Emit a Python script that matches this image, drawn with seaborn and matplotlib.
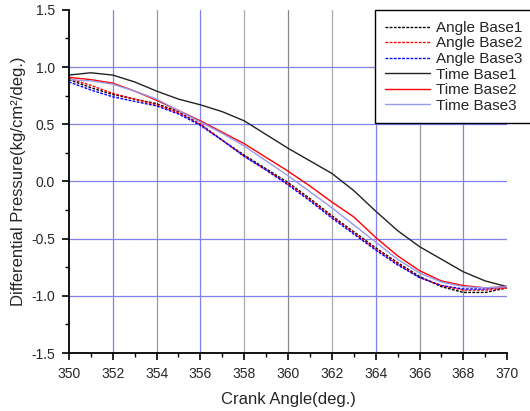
import numpy as np
import pandas as pd
import seaborn as sns
import matplotlib.pyplot as plt
from matplotlib.ticker import MultipleLocator

# crank angle (deg.)
angle = list(range(350, 371))

angle_base1 = [0.89, 0.82, 0.76, 0.72, 0.68, 0.61, 0.50, 0.36, 0.23, 0.11, -0.01,
               -0.15, -0.30, -0.44, -0.58, -0.71, -0.83, -0.92, -0.97, -0.97, -0.93]
angle_base2 = [0.90, 0.84, 0.77, 0.72, 0.67, 0.60, 0.50, 0.36, 0.22, 0.10, -0.02,
               -0.16, -0.31, -0.45, -0.59, -0.72, -0.84, -0.91, -0.95, -0.95, -0.93]
angle_base3 = [0.87, 0.80, 0.74, 0.70, 0.66, 0.59, 0.49, 0.36, 0.22, 0.10, -0.03,
               -0.17, -0.32, -0.46, -0.60, -0.73, -0.84, -0.91, -0.94, -0.94, -0.92]
time_base1 = [0.93, 0.95, 0.93, 0.87, 0.79, 0.72, 0.67, 0.61, 0.53, 0.41, 0.29,
              0.18, 0.07, -0.08, -0.26, -0.43, -0.57, -0.68, -0.79, -0.87, -0.92]
time_base2 = [0.91, 0.89, 0.86, 0.79, 0.71, 0.62, 0.53, 0.43, 0.33, 0.21, 0.09,
              -0.04, -0.18, -0.31, -0.49, -0.65, -0.78, -0.87, -0.91, -0.93, -0.92]
time_base3 = [0.89, 0.88, 0.85, 0.79, 0.72, 0.62, 0.52, 0.42, 0.31, 0.18, 0.05,
              -0.09, -0.23, -0.38, -0.53, -0.68, -0.80, -0.88, -0.92, -0.93, -0.92]

series = [
    ('Angle Base1', angle_base1, 'black', (0, (2, 1))),
    ('Angle Base2', angle_base2, 'red', (0, (2, 1))),
    ('Angle Base3', angle_base3, 'blue', (0, (2, 1))),
    ('Time Base1', time_base1, '#222222', '-'),
    ('Time Base2', time_base2, 'red', '-'),
    ('Time Base3', time_base3, '#9999ee', '-'),
]

sns.set_style('white')
plt.rcParams['font.family'] = ['Liberation Sans', 'DejaVu Sans']

fig = plt.figure(figsize=(5.3, 4.11), dpi=100)
ax = fig.add_axes([0.130, 0.141, 0.827, 0.835])

for name, vals, col, ls in series:
    df = pd.DataFrame({'x': angle, 'y': vals})
    sns.lineplot(data=df, x='x', y='y', ax=ax, color=col, linestyle=ls,
                 linewidth=1.0, label=name)

ax.set_xlim(350, 370)
ax.set_ylim(-1.5, 1.5)
ax.xaxis.set_major_locator(MultipleLocator(2))
ax.xaxis.set_minor_locator(MultipleLocator(1))
ax.yaxis.set_major_locator(MultipleLocator(0.5))
ax.yaxis.set_minor_locator(MultipleLocator(0.25))
ax.set_yticks([-1.5, -1.0, -0.5, 0.0, 0.5, 1.0, 1.5])
ax.set_yticklabels(['-1.5', '-1.0', '-0.5', '0.0', '0.5', '1.0', '1.5'])

ax.tick_params(which='major', direction='out', length=5, width=1.2, pad=5,
               labelsize=10, bottom=True, left=True, color='black')
ax.tick_params(which='minor', direction='out', length=3, width=1.0,
               bottom=True, left=True, color='black')

ax.spines['top'].set_visible(False)
ax.spines['right'].set_visible(False)
for s in ['left', 'bottom']:
    ax.spines[s].set_linewidth(1.3)
    ax.spines[s].set_color('black')

# grid lines, mixed colours as in the original
vcols = {352: '#8080ee', 354: '#999999', 356: '#8080ee', 358: '#aaaaaa',
         360: '#888888', 362: '#aaaaaa', 364: '#8080ee', 366: '#999999',
         368: '#8080ee'}
for xv, c in vcols.items():
    ax.axvline(xv, color=c, linewidth=0.9, zorder=0)
for yv in [-1.0, -0.5, 0.0, 0.5, 1.0]:
    ax.axhline(yv, color='#8080ee', linewidth=0.9, zorder=0)

ax.set_xlabel('Crank Angle(deg.)', fontsize=12, labelpad=8)
ax.set_ylabel('Differential Pressure(kg/cm²/deg.)', fontsize=12, labelpad=4)

leg = ax.legend(loc='upper left', bbox_to_anchor=(0.707, 0.975),
                bbox_transform=fig.transFigure, fontsize=11, frameon=True,
                fancybox=False, edgecolor='black', handlelength=2.9,
                labelspacing=0.1, borderpad=0.7, handletextpad=0.4,
                borderaxespad=0)
leg.get_frame().set_linewidth(1.0)
leg.get_frame().set_alpha(1)

fig.savefig('out.png', dpi=100)
